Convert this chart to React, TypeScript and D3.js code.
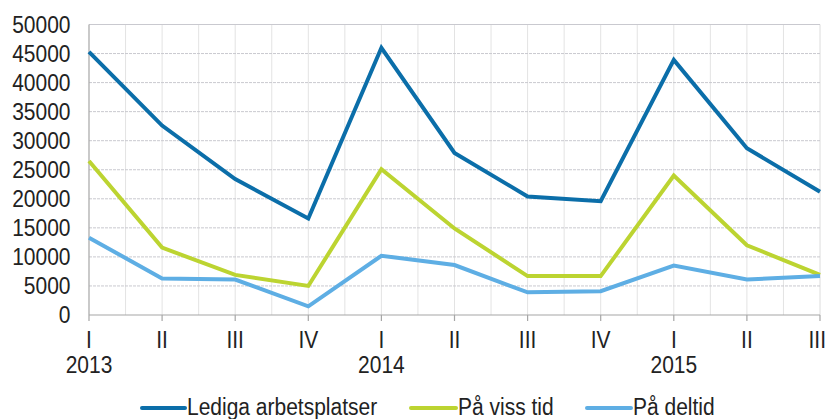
import React from 'react'
import * as d3 from 'd3'

const quarters = ['I', 'II', 'III', 'IV', 'I', 'II', 'III', 'IV', 'I', 'II', 'III']
const years = ['2013', '', '', '', '2014', '', '', '', '2015', '', '']

const lediga = [45300, 32600, 23400, 16600, 46000, 27900, 20400, 19600, 43900, 28700, 21200]
const vissTid = [26500, 11600, 6900, 5000, 25100, 14900, 6700, 6700, 24000, 12000, 6900]
const deltid = [13300, 6300, 6100, 1500, 10200, 8600, 3900, 4100, 8500, 6100, 6700]

const yTicks = [0, 5000, 10000, 15000, 20000, 25000, 30000, 35000, 40000, 45000, 50000]

const series = [
    { name: 'Lediga arbetsplatser', values: lediga, color: '#0b6ea9' },
    { name: 'På viss tid', values: vissTid, color: '#bcd431' },
    { name: 'På deltid', values: deltid, color: '#5eaee4' },
]

const font = '"Liberation Sans", Arial, sans-serif'

// text slightly stretched vertically, like the original
function T({ x, y, anchor = 'start', children }: any) {
    return (
        <text transform={`translate(${x},${y}) scale(1,1.12)`} textAnchor={anchor}
            fontFamily={font} fontSize={21} fill="#222">{children}</text>
    )
}

export default function App() {
    const width = 827
    const height = 419
    const left = 89, right = 820, top = 24.5, bottom = 315

    const xScale = d3.scaleLinear()
        .domain([0, quarters.length - 1])
        .range([left, right])

    const yScale = d3.scaleLinear()
        .domain([0, 50000])
        .range([bottom, top])

    const myLine = d3.line<number>()
        .x((v, i) => xScale(i))
        .y(v => yScale(v))

    // minor vertical grid at half steps
    const halfSteps = d3.range(0.5, quarters.length - 1, 1)

    const legendItems = [
        { x: 142, w: 43 },
        { x: 411, w: 45 },
        { x: 587, w: 44 },
    ]

    const last = quarters.length - 1

    return (
        <svg width={width} height={height} style={{ position: 'absolute', left: 0, top: 0, background: '#fff' }}>
            <g>
                {halfSteps.concat(d3.range(1, quarters.length - 1)).map(i => (
                    <line key={'v' + i} x1={xScale(i)} x2={xScale(i)} y1={top} y2={bottom}
                        stroke="#e3e3e3" strokeWidth={1} />
                ))}
                <line x1={right} x2={right} y1={top} y2={bottom} stroke="#dcdcdc" strokeWidth={1} />
                {yTicks.slice(1).map(t => (
                    <line key={'h' + t} x1={left} x2={right} y1={yScale(t)} y2={yScale(t)}
                        stroke="#c9c9cf" strokeWidth={1} strokeDasharray={t === 50000 ? undefined : '3,1'} />
                ))}
            </g>
            <line x1={left} x2={left} y1={top} y2={bottom} stroke="#a6a6a6" strokeWidth={1.2} />
            <line x1={left} x2={right} y1={bottom} y2={bottom} stroke="#a6a6a6" strokeWidth={1.2} />
            {quarters.map((q, i) => (
                <line key={'t' + i} x1={xScale(i)} x2={xScale(i)} y1={bottom} y2={bottom + 6}
                    stroke="#a6a6a6" strokeWidth={1.2} />
            ))}

            {yTicks.map(t => (
                <T key={'y' + t} x={70.5} y={yScale(t) + 8.2} anchor="end">{t}</T>
            ))}
            {quarters.map((q, i) => i === last ? (
                <T key={'q' + i} x={width - 1} y={348} anchor="end">{q}</T>
            ) : (
                <T key={'q' + i} x={xScale(i)} y={348} anchor="middle">{q}</T>
            ))}
            {years.map((yr, i) => yr ? (
                <T key={'yr' + i} x={xScale(i)} y={373} anchor="middle">{yr}</T>
            ) : null)}

            {series.map(s => (
                <path key={s.name} d={myLine(s.values) || ''} fill="none" stroke={s.color}
                    strokeWidth={4} strokeLinejoin="miter" />
            ))}

            {series.map((s, i) => (
                <g key={'l' + s.name}>
                    <line x1={legendItems[i].x} x2={legendItems[i].x + legendItems[i].w} y1={408} y2={408}
                        stroke={s.color} strokeWidth={4} strokeLinecap="round" />
                    <T x={legendItems[i].x + legendItems[i].w + 2} y={415}>{s.name}</T>
                </g>
            ))}
        </svg>
    )
}
